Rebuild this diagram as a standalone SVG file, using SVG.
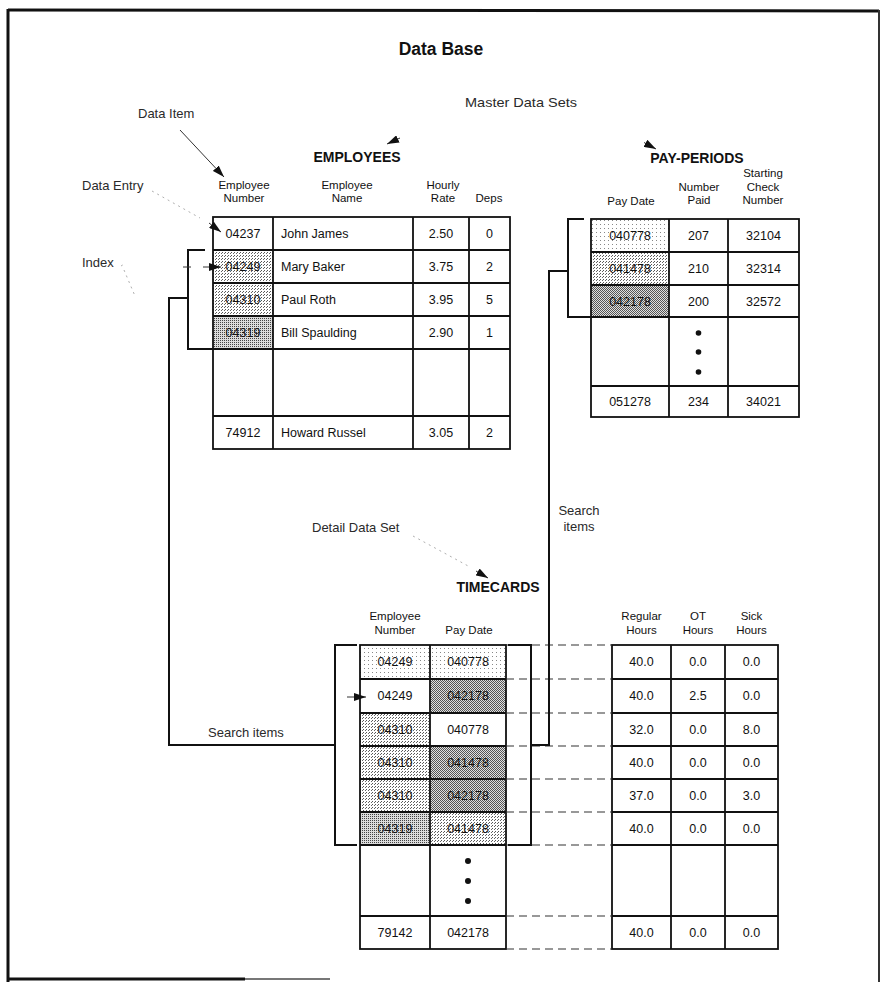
<svg xmlns="http://www.w3.org/2000/svg" width="882" height="982" viewBox="0 0 882 982">
<style>
.t{font-family:"Liberation Sans",Arial,Helvetica,sans-serif;fill:#111}
.h{font-size:11.5px;text-anchor:middle}
.v{font-size:12.5px}
.c{text-anchor:middle}
.ttl{font-weight:bold;font-size:14px;text-anchor:middle}
.lbl{font-size:13px;fill:#2a2a2a}
.grid{fill:none;stroke:#111;stroke-width:1.8}
.conn{fill:none;stroke:#111;stroke-width:2}
.dash{fill:none;stroke:#333;stroke-width:1.2;stroke-dasharray:8 5}
.lead{fill:none;stroke:#333;stroke-width:1}
.faint{fill:none;stroke:#999;stroke-width:0.8;stroke-dasharray:2 4}
.dot{fill:#111}
</style>
<defs>
<pattern id="pFaint" width="4" height="4" patternUnits="userSpaceOnUse"><rect width="4" height="4" fill="#fff"/><rect width="1" height="1" fill="#888"/></pattern>
<pattern id="pLight" width="3" height="3" patternUnits="userSpaceOnUse"><rect width="3" height="3" fill="#fff"/><rect width="1" height="1" fill="#555"/><rect x="2" y="1" width="1" height="1" fill="#666"/></pattern>
<pattern id="pMed" width="2" height="2" patternUnits="userSpaceOnUse"><rect width="2" height="2" fill="#dcdcdc"/><rect width="1" height="1" fill="#444"/></pattern>
<pattern id="pDark" width="2" height="2" patternUnits="userSpaceOnUse"><rect width="2" height="2" fill="#e0e0e0"/><rect width="1" height="1" fill="#555"/><rect x="1" y="1" width="1" height="1" fill="#555"/></pattern>
<marker id="ah" viewBox="0 0 12 8" refX="12" refY="4" markerWidth="12" markerHeight="8" markerUnits="userSpaceOnUse" orient="auto"><path d="M0,0 L12,4 L0,8 z" fill="#111"/></marker>
</defs>
<rect width="882" height="982" fill="#fff"/>

<g id="frame">
<path d="M8,10 L879,11" fill="none" stroke="#111" stroke-width="3"/>
<path d="M8,9 L8,982" fill="none" stroke="#111" stroke-width="3"/>
<path d="M879,10 L879,982" fill="none" stroke="#333" stroke-width="2"/>
<path d="M7,979 L245,979" fill="none" stroke="#111" stroke-width="3"/>
<path d="M245,979 L330,979" fill="none" stroke="#777" stroke-width="2"/>
</g>

<g id="title"><text class="t" x="441" y="55" text-anchor="middle" font-weight="bold" font-size="17.5">Data Base</text></g>
<g id="label-master"><text class="t lbl" x="465" y="107" textLength="112" lengthAdjust="spacingAndGlyphs">Master Data Sets</text></g>
<g id="label-dataitem"><text class="t lbl" x="138" y="118">Data Item</text></g>
<g id="label-dataentry"><text class="t lbl" x="82" y="190">Data Entry</text></g>
<g id="label-index"><text class="t lbl" x="82" y="267">Index</text></g>
<g id="label-detail"><text class="t lbl" x="312" y="532">Detail Data Set</text></g>
<g id="label-search-left"><text class="t lbl" x="208" y="737">Search items</text></g>
<g id="label-search-right"><text class="t lbl c" x="579" y="515">Search</text><text class="t lbl c" x="579" y="531">items</text></g>

<g id="employees">
<text class="t ttl" x="357" y="162">EMPLOYEES</text>
<text class="t h" x="244" y="189">Employee</text><text class="t h" x="244" y="202">Number</text>
<text class="t h" x="347" y="189">Employee</text><text class="t h" x="347" y="202">Name</text>
<text class="t h" x="443" y="189">Hourly</text><text class="t h" x="443" y="202">Rate</text>
<text class="t h" x="489" y="202">Deps</text>
<rect x="213" y="250" width="60" height="33" fill="url(#pLight)"/>
<rect x="213" y="283" width="60" height="33" fill="url(#pLight)"/>
<rect x="213" y="316" width="60" height="33" fill="url(#pMed)"/>
<rect class="grid" x="213" y="217" width="297" height="232"/>
<path class="grid" d="M273,217V449M413,217V449M469,217V449M213,250H510M213,283H510M213,316H510M213,349H510M213,416H510"/>
<g class="t v">
<text class="c" x="243" y="238">04237</text><text x="281" y="238">John James</text><text class="c" x="441" y="238">2.50</text><text class="c" x="489.5" y="238">0</text>
<text class="c" x="243" y="271">04249</text><text x="281" y="271">Mary Baker</text><text class="c" x="441" y="271">3.75</text><text class="c" x="489.5" y="271">2</text>
<text class="c" x="243" y="304">04310</text><text x="281" y="304">Paul Roth</text><text class="c" x="441" y="304">3.95</text><text class="c" x="489.5" y="304">5</text>
<text class="c" x="243" y="337">04319</text><text x="281" y="337">Bill Spaulding</text><text class="c" x="441" y="337">2.90</text><text class="c" x="489.5" y="337">1</text>
<text class="c" x="243" y="437">74912</text><text x="281" y="437">Howard Russel</text><text class="c" x="441" y="437">3.05</text><text class="c" x="489.5" y="437">2</text>
</g>
</g>

<g id="pay-periods">
<text class="t ttl" x="697" y="163">PAY-PERIODS</text>
<text class="t h" x="631" y="205">Pay Date</text>
<text class="t h" x="699" y="190.5">Number</text><text class="t h" x="699" y="204">Paid</text>
<text class="t h" x="763" y="177">Starting</text><text class="t h" x="763" y="190.5">Check</text><text class="t h" x="763" y="204">Number</text>
<rect x="591" y="219" width="78" height="33" fill="url(#pFaint)"/>
<rect x="591" y="252" width="78" height="33" fill="url(#pLight)"/>
<rect x="591" y="285" width="78" height="32" fill="url(#pDark)"/>
<rect class="grid" x="591" y="219" width="208" height="198"/>
<path class="grid" d="M669,219V417M728,219V417M591,252H799M591,285H799M591,317H799M591,386H799"/>
<g class="t v">
<text class="c" x="630" y="240">040778</text><text class="c" x="698.5" y="240">207</text><text class="c" x="763.5" y="240">32104</text>
<text class="c" x="630" y="273">041478</text><text class="c" x="698.5" y="273">210</text><text class="c" x="763.5" y="273">32314</text>
<text class="c" x="630" y="305.5">042178</text><text class="c" x="698.5" y="305.5">200</text><text class="c" x="763.5" y="305.5">32572</text>
<text class="c" x="630" y="406">051278</text><text class="c" x="698.5" y="406">234</text><text class="c" x="763.5" y="406">34021</text>
</g>
<circle class="dot" cx="698.5" cy="333" r="2.8"/><circle class="dot" cx="698.5" cy="352" r="2.8"/><circle class="dot" cx="698.5" cy="372" r="2.8"/>
</g>

<g id="timecards">
<text class="t ttl" x="498" y="592">TIMECARDS</text>
<text class="t h" x="395" y="620">Employee</text><text class="t h" x="395" y="634">Number</text>
<text class="t h" x="469" y="634">Pay Date</text>
<text class="t h" x="641.5" y="620">Regular</text><text class="t h" x="641.5" y="634">Hours</text>
<text class="t h" x="698" y="620">OT</text><text class="t h" x="698" y="634">Hours</text>
<text class="t h" x="751.5" y="620">Sick</text><text class="t h" x="751.5" y="634">Hours</text>
<rect x="360" y="645" width="70" height="34" fill="url(#pFaint)"/>
<rect x="430" y="645" width="76" height="34" fill="url(#pFaint)"/>
<rect x="430" y="679" width="76" height="34" fill="url(#pDark)"/>
<rect x="360" y="713" width="70" height="33" fill="url(#pLight)"/>
<rect x="360" y="746" width="70" height="33" fill="url(#pLight)"/>
<rect x="430" y="746" width="76" height="33" fill="url(#pDark)"/>
<rect x="360" y="779" width="70" height="33" fill="url(#pLight)"/>
<rect x="430" y="779" width="76" height="33" fill="url(#pDark)"/>
<rect x="360" y="812" width="70" height="33" fill="url(#pMed)"/>
<rect x="430" y="812" width="76" height="33" fill="url(#pLight)"/>
<rect class="grid" x="360" y="645" width="146" height="304"/>
<path class="grid" d="M430,645V949M360,679H506M360,713H506M360,746H506M360,779H506M360,812H506M360,845H506M360,916H506"/>
<rect class="grid" x="612" y="645" width="166" height="304"/>
<path class="grid" d="M671,645V949M725,645V949M612,679H778M612,713H778M612,746H778M612,779H778M612,812H778M612,845H778M612,916H778"/>
<g class="t v">
<text class="c" x="395" y="666">04249</text><text class="c" x="468" y="666">040778</text><text class="c" x="641.5" y="666">40.0</text><text class="c" x="698" y="666">0.0</text><text class="c" x="751.5" y="666">0.0</text>
<text class="c" x="395" y="700">04249</text><text class="c" x="468" y="700">042178</text><text class="c" x="641.5" y="700">40.0</text><text class="c" x="698" y="700">2.5</text><text class="c" x="751.5" y="700">0.0</text>
<text class="c" x="395" y="734">04310</text><text class="c" x="468" y="734">040778</text><text class="c" x="641.5" y="734">32.0</text><text class="c" x="698" y="734">0.0</text><text class="c" x="751.5" y="734">8.0</text>
<text class="c" x="395" y="767">04310</text><text class="c" x="468" y="767">041478</text><text class="c" x="641.5" y="767">40.0</text><text class="c" x="698" y="767">0.0</text><text class="c" x="751.5" y="767">0.0</text>
<text class="c" x="395" y="800">04310</text><text class="c" x="468" y="800">042178</text><text class="c" x="641.5" y="800">37.0</text><text class="c" x="698" y="800">0.0</text><text class="c" x="751.5" y="800">3.0</text>
<text class="c" x="395" y="833">04319</text><text class="c" x="468" y="833">041478</text><text class="c" x="641.5" y="833">40.0</text><text class="c" x="698" y="833">0.0</text><text class="c" x="751.5" y="833">0.0</text>
<text class="c" x="395" y="937">79142</text><text class="c" x="468" y="937">042178</text><text class="c" x="641.5" y="937">40.0</text><text class="c" x="698" y="937">0.0</text><text class="c" x="751.5" y="937">0.0</text>
</g>
<circle class="dot" cx="468" cy="861" r="3"/><circle class="dot" cx="468" cy="881" r="3"/><circle class="dot" cx="468" cy="901" r="3"/>
</g>

<g id="connectors">
<path class="dash" d="M506,645H612M506,679H612M506,713H612M506,746H612M506,779H612M506,812H612M506,845H612M506,916H612M506,949H612"/>
<path class="conn" d="M205,250H188V349H213"/>
<path class="conn" d="M188,298H169V745H335"/>
<path class="conn" d="M357,645H335V845H357"/>
<path class="conn" d="M584,219H568V317H591"/>
<path class="conn" d="M568,271H549V745H531"/>
<path class="conn" d="M508,645H531V845H508"/>
<path class="lead" d="M180,130L224,177" marker-end="url(#ah)"/>
<path class="lead" d="M400,138L387,144" marker-end="url(#ah)"/>
<path class="lead" d="M644,142.5L656,149" marker-end="url(#ah)"/>
<path class="faint" d="M413,536L470,567"/>
<path class="lead" d="M476,571L488,578" marker-end="url(#ah)"/>
<path class="faint" d="M152,191L200,218"/>
<path class="lead" d="M209,223L221,232" marker-end="url(#ah)"/>
<path class="faint" d="M121,266L126,263M124,270L135,296"/>
<path class="lead" d="M183,267H191M203,267H221" marker-end="url(#ah)"/>
<path class="lead" d="M347,697H366" marker-end="url(#ah)"/>
</g>
</svg>
